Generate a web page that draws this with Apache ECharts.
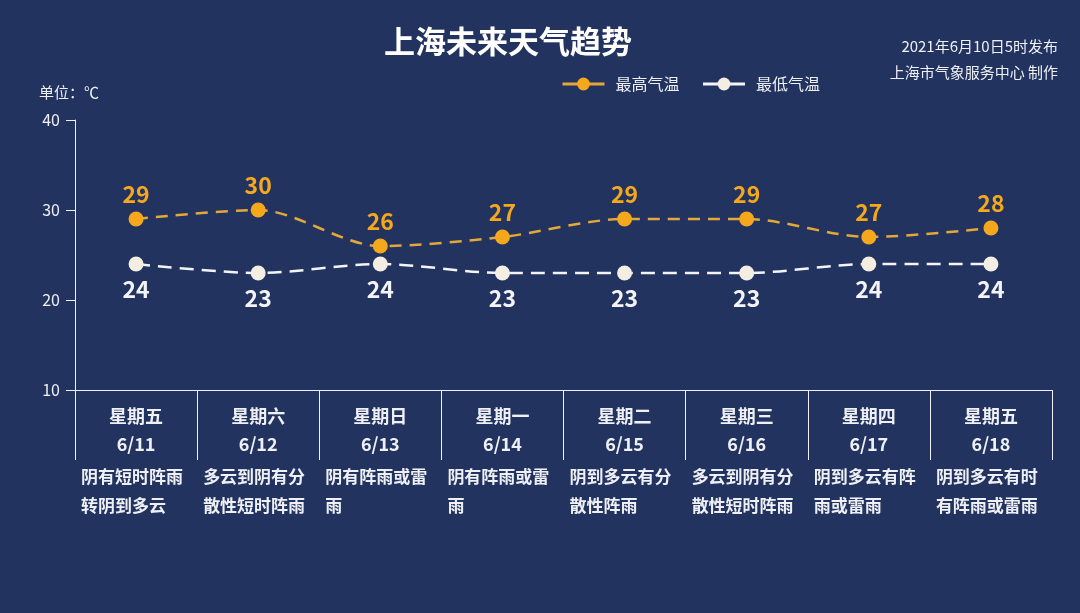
<!DOCTYPE html>
<html>
<head>
<meta charset="utf-8">
<title>上海未来天气趋势</title>
<script src="https://cdn.jsdelivr.net/npm/echarts@6/dist/echarts.min.js"></script>
<style>
  html, body { margin: 0; padding: 0; background: #22335f; }
  #chart { width: 1080px; height: 613px; }
</style>
</head>
<body>
<div id="chart"></div>
<script>
const weekdays = ['星期五', '星期六', '星期日', '星期一', '星期二', '星期三', '星期四', '星期五'];
const dates = ['6/11', '6/12', '6/13', '6/14', '6/15', '6/16', '6/17', '6/18'];
const forecasts = [
  '阴有短时阵雨\n转阴到多云',
  '多云到阴有分\n散性短时阵雨',
  '阴有阵雨或雷\n雨',
  '阴有阵雨或雷\n雨',
  '阴到多云有分\n散性阵雨',
  '多云到阴有分\n散性短时阵雨',
  '阴到多云有阵\n雨或雷雨',
  '阴到多云有时\n有阵雨或雷雨'
];
const highTemps = [29, 30, 26, 27, 29, 29, 27, 28];
const lowTemps = [24, 23, 24, 23, 23, 23, 24, 24];
const yTicks = { min: 10, max: 40, interval: 10 };

const font = '"Noto Sans CJK SC", "Microsoft YaHei", sans-serif';
const white = '#eef0f5';
const orange = '#f5a81c';

const categories = weekdays.map((w, i) => w + '\n' + dates[i]);
// boundary axis: one label per category left edge, plus an empty last slot
const forecastSlots = forecasts.concat(['']);

const chart = echarts.init(document.getElementById('chart'));
chart.setOption({
  backgroundColor: '#22335f',
  textStyle: { fontFamily: font },
  title: [
    {
      text: '上海未来天气趋势',
      left: 379, top: 21,
      textStyle: { color: '#ffffff', fontSize: 31, fontWeight: 'bold', fontFamily: font }
    },
    {
      text: '2021年6月10日5时发布',
      right: 17, top: 34,
      textStyle: { color: white, fontSize: 15, fontWeight: 'normal', fontFamily: font }
    },
    {
      text: '上海市气象服务中心 制作',
      right: 17, top: 60,
      textStyle: { color: white, fontSize: 15, fontWeight: 'normal', fontFamily: font }
    }
  ],
  legend: {
    left: 556, top: 71,
    itemWidth: 42, itemHeight: 16, itemGap: 22,
    lineStyle: { type: 'solid', width: 3 },
    textStyle: { color: white, fontSize: 16, fontFamily: font, padding: [0, 0, 0, 6] },
    data: ['最高气温', '最低气温']
  },
  grid: { left: 75, right: 28, top: 120, bottom: 223, containLabel: false },
  xAxis: [
    {
      type: 'category',
      data: categories,
      boundaryGap: true,
      axisLine: { lineStyle: { color: white, width: 1 } },
      axisTick: { show: true, length: 70, lineStyle: { color: white, width: 1 } },
      axisLabel: {
        color: white, fontSize: 18, fontWeight: 'bold', lineHeight: 28,
        margin: 12, interval: 0, fontFamily: font
      }
    },
    {
      type: 'category',
      position: 'bottom',
      data: forecastSlots,
      boundaryGap: false,
      axisLine: { show: false },
      axisTick: { show: false },
      axisLabel: {
        color: white, fontSize: 17, fontWeight: 'bold', lineHeight: 29,
        margin: 72, interval: 0, align: 'left', padding: [0, 0, 0, 6], fontFamily: font
      }
    }
  ],
  yAxis: {
    type: 'value',
    min: yTicks.min, max: yTicks.max, interval: yTicks.interval,
    name: '单位：℃',
    nameLocation: 'end',
    nameGap: 20,
    nameTextStyle: { color: white, fontSize: 15, align: 'center', padding: [0, 12, 0, 0], fontFamily: font },
    axisLine: { show: true, lineStyle: { color: white, width: 1 } },
    axisTick: { show: true, length: 9, lineStyle: { color: white } },
    axisLabel: { color: white, fontSize: 16, margin: 15, fontFamily: font },
    splitLine: { show: false }
  },
  series: [
    {
      name: '最高气温',
      type: 'line',
      data: highTemps,
      smooth: 0.3,
      symbol: 'circle',
      symbolSize: 15,
      itemStyle: { color: orange },
      lineStyle: { color: '#e3a83a', width: 2.5, type: [12, 8] },
      label: {
        show: true, position: 'top', distance: 6,
        color: orange, fontSize: 23, fontWeight: 'bold', fontFamily: font
      }
    },
    {
      name: '最低气温',
      type: 'line',
      data: lowTemps,
      smooth: 0.3,
      symbol: 'circle',
      symbolSize: 15,
      itemStyle: { color: '#f4ede2' },
      lineStyle: { color: '#f2f4fa', width: 2.5, type: [14, 8] },
      label: {
        show: true, position: 'bottom', distance: 6,
        color: '#f4f4f8', fontSize: 23, fontWeight: 'bold', fontFamily: font
      }
    }
  ]
});
window.addEventListener('resize', () => chart.resize());
</script>
</body>
</html>
